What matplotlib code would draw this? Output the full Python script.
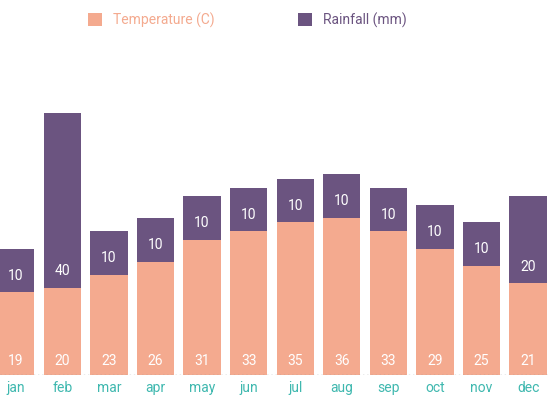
import numpy as np
import matplotlib.pyplot as plt

plt.rcParams['font.family'] = ['Roboto', 'DejaVu Sans']

months = ['jan', 'feb', 'mar', 'apr', 'may', 'jun', 'jul', 'aug', 'sep', 'oct', 'nov', 'dec']
temperature = [19, 20, 23, 26, 31, 33, 35, 36, 33, 29, 25, 21]
rainfall = [10, 40, 10, 10, 10, 10, 10, 10, 10, 10, 10, 20]

temp_color = '#F4AA8F'
rain_color = '#6B5480'

fig = plt.figure(figsize=(5.5, 4), dpi=100)
ax = fig.add_axes([0, 0.0625, 1, 0.9375])

x = np.arange(len(months))
ax.bar(x, temperature, width=0.8, color=temp_color, label='Temperature (C)')
ax.bar(x, rainfall, width=0.8, bottom=temperature, color=rain_color, label='Rainfall (mm)')

for xi, t, r in zip(x, temperature, rainfall):
    ax.text(xi, 3.2, str(t), ha='center', va='center', color='white', fontsize=10)
    ax.text(xi, t + 3.8, str(r), ha='center', va='center', color='white', fontsize=10)

ax.set_xlim(-0.34, 11.47)
ax.set_ylim(0, 86)
ax.axhline(0, color='#999999', linestyle=(0, (1, 2)), linewidth=1)
for s in ax.spines.values():
    s.set_visible(False)
ax.set_yticks([])
ax.set_xticks(x)
ax.set_xticklabels(months, color='#3FB8AF', fontsize=10)
ax.tick_params(axis='x', length=0, pad=4)

fig.legend(loc='upper center', bbox_to_anchor=(0.45, 1.0), ncol=2, frameon=False,
           fontsize=10, handlelength=1.0, handleheight=1.0, columnspacing=6,
           labelcolor=[temp_color, rain_color])

fig.savefig('out.png', dpi=100)
